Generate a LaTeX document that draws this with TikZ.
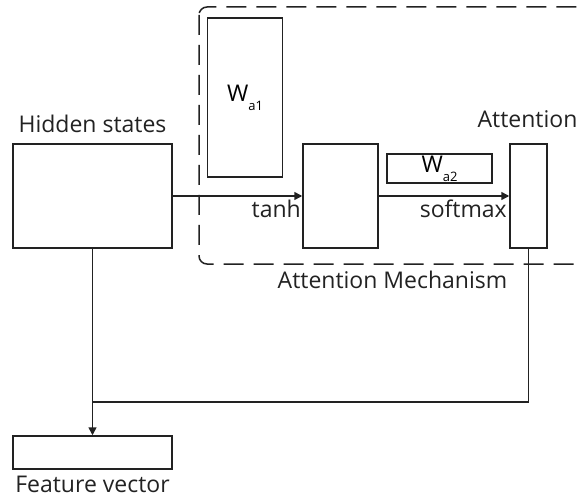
\documentclass[tikz,border=0pt]{standalone}
\usepackage{fontspec}
\setmainfont{Open Sans}
\usepackage{xcolor}
\usepackage{tikz}
\usetikzlibrary{calc,arrows.meta,positioning}
\definecolor{inkx}{HTML}{222222}
\newcommand{\subx}[1]{\raisebox{-9pt}{\fontsize{13}{15}\selectfont #1}}
\tikzset{
  blk/.style={draw=inkx,line width=1.5pt,rectangle,inner sep=0pt,font=\fontsize{23}{27}\selectfont},
  txt/.style={inner sep=0pt,text=inkx,font=\fontsize{23}{27}\selectfont},
  ar/.style={-{Triangle[length=8pt,width=8pt]},line width=1.5pt,inkx},
  ln/.style={line width=1.5pt,inkx},
  mech/.style={draw=inkx,line width=1.5pt,dash pattern=on 20pt off 10pt,rounded corners=8pt}
}
\begin{document}
\begin{tikzpicture}[x=1pt,y=-1pt]
\useasboundingbox (0,0) rectangle (581,497);
\draw[mech] (199,7) rectangle (620,264);
\node[blk,minimum width=159pt,minimum height=104pt] (hid) at (92.5,196) {};
\node[blk,minimum width=75pt,minimum height=159pt] (wa1) at (245,97.5) {W\subx{a1}};
\node[blk,minimum width=75pt,minimum height=104pt] (mid) at (340.5,196) {};
\node[blk,minimum width=105pt,minimum height=29pt] (wa2) at (439.5,168.5) {W\subx{a2}};
\node[blk,minimum width=37pt,minimum height=104pt] (att) at (528.5,196) {};
\node[blk,minimum width=159pt,minimum height=33pt] (feat) at (92.5,452.5) {};
\node[txt,anchor=base] (hidlbl) at (92.5,133) {Hidden states};
\node[txt,anchor=base] (attlbl) at (527.5,128) {Attention};
\node[txt,anchor=base east] (tanhlbl) at (301,218) {tanh};
\node[txt,anchor=base east] (smlbl) at (507,218) {softmax};
\node[txt,anchor=base] (mechlbl) at (392.5,288) {Attention Mechanism};
\node[txt,anchor=base] (featlbl) at (92.5,492) {Feature vector};
\coordinate (jn) at (92.5,402);
\draw[ar] (hid) -- (mid);
\draw[ar] (mid) -- (att);
\draw[ar] (hid.south) -- (feat.north);
\draw[ln] (att.south) |- (jn);
\end{tikzpicture}
\end{document}
